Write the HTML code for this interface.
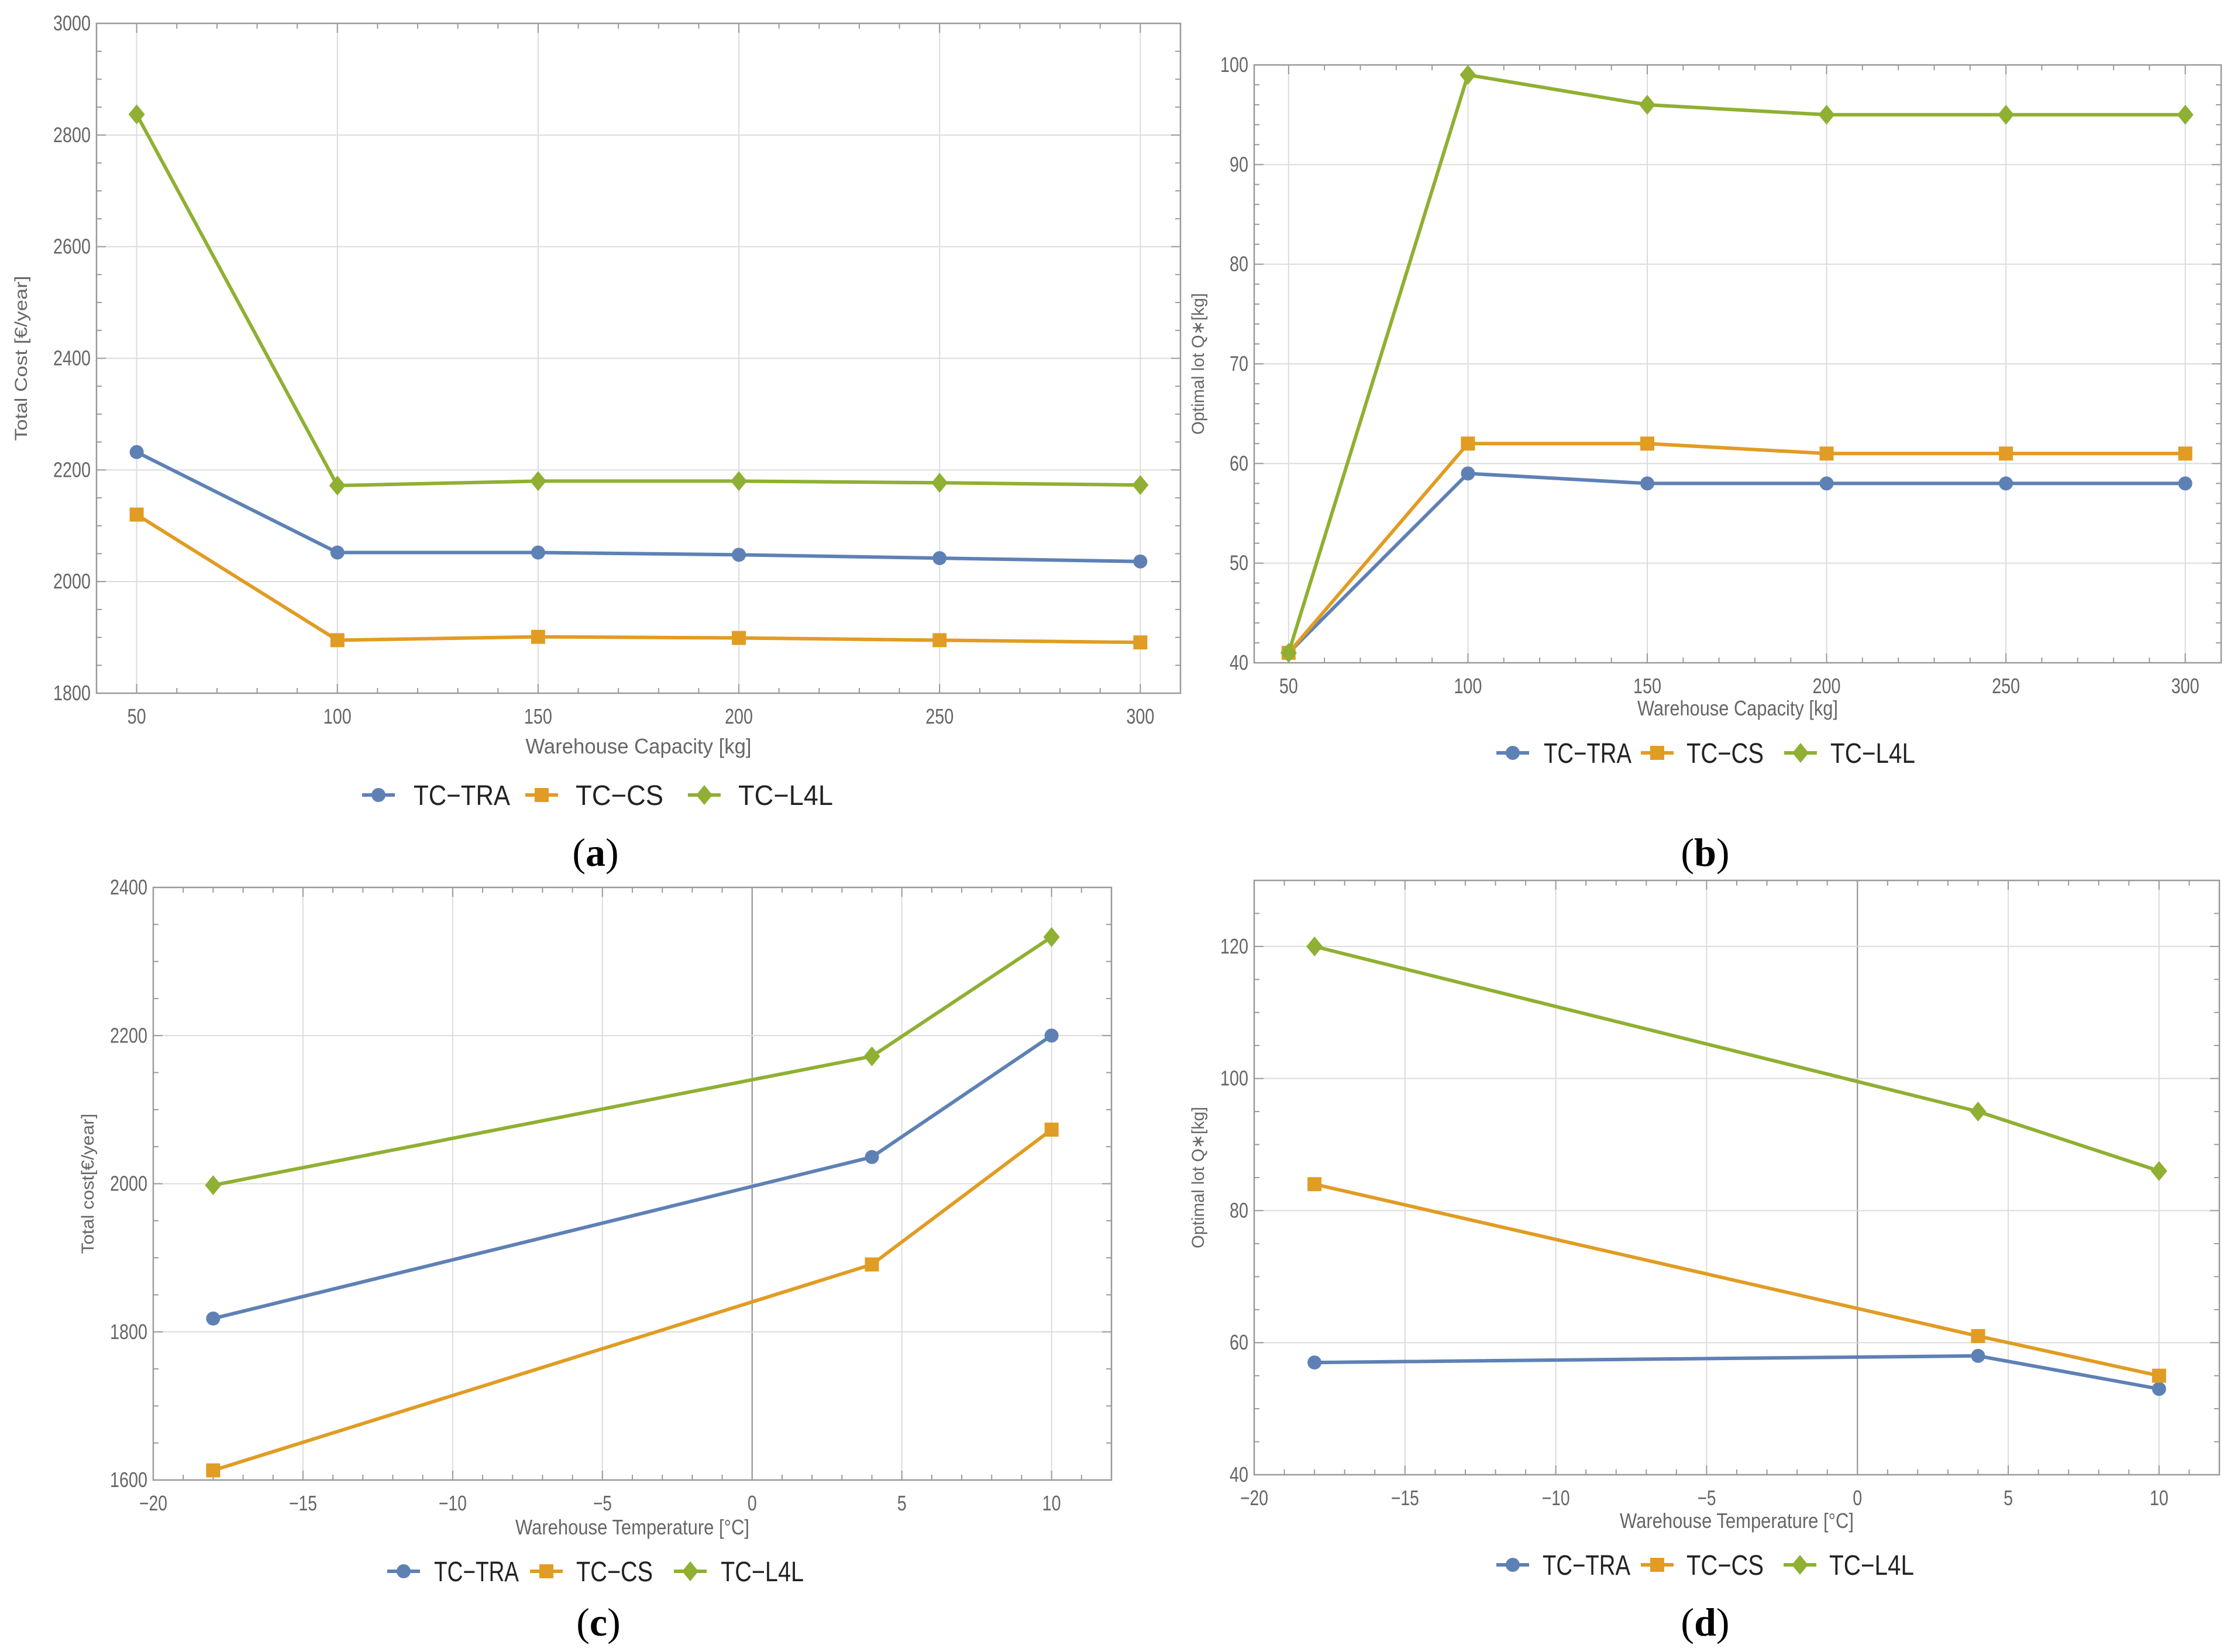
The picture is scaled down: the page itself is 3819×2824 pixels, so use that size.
<!DOCTYPE html>
<html><head><meta charset="utf-8"><style>
html,body{margin:0;padding:0;background:#fff}
svg{display:block}
</style></head><body>
<svg id="fig" width="3819" height="2824" viewBox="0 0 3819 2824" xmlns="http://www.w3.org/2000/svg"></svg>
<script>
// ---- data ----
const capCategories = [50, 100, 150, 200, 250, 300];
const tempCategories = [-18, 4, 10];
const seriesNames = ["TC\u2212TRA", "TC\u2212CS", "TC\u2212L4L"];
const aTRA = [2232, 2052, 2052, 2048, 2042, 2036];
const aCS  = [2120, 1895, 1901, 1899, 1895, 1891];
const aL4L = [2837, 2172, 2180, 2180, 2177, 2173];
const bTRA = [41, 59, 58, 58, 58, 58];
const bCS  = [41, 62, 62, 61, 61, 61];
const bL4L = [41, 99, 96, 95, 95, 95];
const cTRA = [1818, 2036, 2200];
const cCS  = [1613, 1891, 2073];
const cL4L = [1998, 2172, 2333];
const dTRA = [57, 58, 53];
const dCS  = [84, 61, 55];
const dL4L = [120, 95, 86];
const capTicks = [50, 100, 150, 200, 250, 300];
const tempTicks = [-20, -15, -10, -5, 0, 5, 10];
const aYTicks = [1800, 2000, 2200, 2400, 2600, 2800, 3000];
const bYTicks = [40, 50, 60, 70, 80, 90, 100];
const cYTicks = [1600, 1800, 2000, 2200, 2400];
const dYTicks = [40, 60, 80, 100, 120];

const NS = "http://www.w3.org/2000/svg";
const svg = document.getElementById("fig");
const COLORS = ["#5E81B5", "#E19C24", "#8FB032"];
function mk(tag, attrs, parent) {
  const e = document.createElementNS(NS, tag);
  for (const k in attrs) e.setAttribute(k, attrs[k]);
  (parent || svg).appendChild(e);
  return e;
}
function marker(g, kind, x, y, color) {
  let m;
  if (kind === 0) m = mk("circle", {cx: x, cy: y, r: 12, fill: color}, g);
  else if (kind === 1) m = mk("rect", {x: x - 12, y: y - 12, width: 24, height: 24, fill: color}, g);
  else m = mk("polygon", {points: `${x},${y-17} ${x+14},${y} ${x},${y+17} ${x-14},${y}`, fill: color}, g);
  return m;
}
function chart(c) {
  const g = mk("g", {});
  
  
  const sx = v => c.L + (v - c.x0) / (c.x1 - c.x0) * (c.R - c.L);
  const sy = v => c.B - (v - c.y0) / (c.y1 - c.y0) * (c.B - c.T);
  c.xTicks.forEach(v => {
    if (v === c.x0 || v === c.x1) return;
    const gl = mk("line", {x1: sx(v), x2: sx(v), y1: c.T, y2: c.B, stroke: v === 0 && c.zero ? "#8a8a8a" : "#dcdcdc", "stroke-width": 2}, g);
    
    
  });
  c.yTicks.forEach(v => {
    if (v === c.y0 || v === c.y1) return;
    const gl = mk("line", {x1: c.L, x2: c.R, y1: sy(v), y2: sy(v), stroke: "#dcdcdc", "stroke-width": 2}, g);
    
    
  });
  const fr = mk("rect", {x: c.L, y: c.T, width: c.R - c.L, height: c.B - c.T, fill: "none", stroke: "#9a9a9a", "stroke-width": 2.5}, g);
  
  
  for (let v = Math.ceil(c.x0 / c.xm) * c.xm; v <= c.x1; v += c.xm) {
    const major = c.xTicks.includes(v);
    const len = major ? 16 : 9;
    mk("line", {x1: sx(v), x2: sx(v), y1: c.B, y2: c.B - len, stroke: "#9a9a9a", "stroke-width": 2}, g);
    mk("line", {x1: sx(v), x2: sx(v), y1: c.T, y2: c.T + len, stroke: "#9a9a9a", "stroke-width": 2}, g);
  }
  for (let v = Math.ceil(c.y0 / c.ym) * c.ym; v <= c.y1; v += c.ym) {
    const major = c.yTicks.includes(v);
    const len = major ? 16 : 9;
    mk("line", {x1: c.L, x2: c.L + len, y1: sy(v), y2: sy(v), stroke: "#9a9a9a", "stroke-width": 2}, g);
    mk("line", {x1: c.R, x2: c.R - len, y1: sy(v), y2: sy(v), stroke: "#9a9a9a", "stroke-width": 2}, g);
  }
  c.xTicks.forEach(v => {
    const s = v < 0 ? "\u2212" + (-v) : String(v);
    const t = mk("text", {x: sx(v), y: c.B + 52, "text-anchor": "middle", "font-family": "Liberation Sans Narrow, Liberation Sans, sans-serif", "font-size": 36, fill: "#666", textLength: s.length * 16, lengthAdjust: "spacingAndGlyphs"}, g);
    t.textContent = s;
    
    
  });
  c.yTicks.forEach(v => {
    const s = String(v);
    const t = mk("text", {x: c.L - 10, y: sy(v) + 12, "text-anchor": "end", "font-family": "Liberation Sans Narrow, Liberation Sans, sans-serif", "font-size": 36, fill: "#666", textLength: s.length * 16, lengthAdjust: "spacingAndGlyphs"}, g);
    t.textContent = s;
    
    
  });
  const xt = mk("text", {x: (c.L + c.R) / 2, y: c.xtY + 12, "text-anchor": "middle", "font-family": "Liberation Sans Narrow, Liberation Sans, sans-serif", "font-size": 36, fill: "#666", textLength: c.xtW, lengthAdjust: "spacingAndGlyphs"}, g);
  xt.textContent = c.xTitle;
  
  
  const yt = mk("text", {x: 0, y: 0, "text-anchor": "middle", "font-family": "Liberation Sans, sans-serif", "font-size": 30, fill: "#666", transform: `translate(${c.ytX + 10},${(c.T + c.B) / 2}) rotate(-90)`, textLength: c.ytW, lengthAdjust: "spacingAndGlyphs"}, g);
  yt.textContent = c.yTitle;
  
  
  c.series.forEach((vals, si) => {
    const pts = vals.map((v, i) => `${sx(c.cats[i])},${sy(v)}`).join(" ");
    const pl = mk("polyline", {points: pts, fill: "none", stroke: COLORS[si], "stroke-width": 6, "stroke-linejoin": "round"}, g);
    
    
    vals.forEach((v, i) => {
      const m = marker(g, si, sx(c.cats[i]), sy(v), COLORS[si]);
      
      
    });
  });
  c.leg.forEach((lx, si) => {
    const ly = c.legY;
    const ln = mk("line", {x1: lx[0] - 28, x2: lx[0] + 28, y1: ly, y2: ly, stroke: COLORS[si], "stroke-width": 6}, g);
    
    
    const m = marker(g, si, lx[0], ly, COLORS[si]);
    
    
    const t = mk("text", {x: lx[1], y: ly + 17, "font-family": "Liberation Sans Narrow, Liberation Sans, sans-serif", "font-size": 48, fill: "#222", textLength: lx[2], lengthAdjust: "spacingAndGlyphs"}, g);
    t.textContent = seriesNames[si];
    
    
  });
  const cap = mk("text", {x: c.capX, y: c.capY + 24, "text-anchor": "middle", "font-family": "Liberation Serif, serif", "font-size": 68, fill: "#000"}, g);
  cap.innerHTML = '(<tspan font-weight="bold">' + c.cap + '</tspan>)';
  
  
}
chart({name: "chart-a", L: 165, R: 2018, T: 40, B: 1185, x0: 40, x1: 310, y0: 1800, y1: 3000,
  xTicks: capTicks, yTicks: aYTicks, xm: 10, ym: 50, cats: capCategories, series: [aTRA, aCS, aL4L],
  xTitle: "Warehouse Capacity [kg]", xtY: 1276, xtW: 386, yTitle: "Total Cost [\u20AC/year]", ytX: 36, ytW: 282,
  legY: 1359, leg: [[647, 707, 165], [926, 984, 150], [1204, 1262, 162]], cap: "a", capX: 1018, capY: 1456});
chart({name: "chart-b", L: 2144, R: 3797, T: 111, B: 1133, x0: 40.4, x1: 310, y0: 40, y1: 100,
  xTicks: capTicks, yTicks: bYTicks, xm: 10, ym: 2, cats: capCategories, series: [bTRA, bCS, bL4L],
  xTitle: "Warehouse Capacity [kg]", xtY: 1211, xtW: 343, yTitle: "Optimal lot Q\u2217[kg]", ytX: 2048, ytW: 242,
  legY: 1287, leg: [[2586, 2639, 150], [2833, 2883, 132], [3078, 3129, 145]], cap: "b", capX: 2915, capY: 1456});
chart({name: "chart-c", L: 262, R: 1900, T: 1517, B: 2530, x0: -20, x1: 12, y0: 1600, y1: 2400,
  xTicks: tempTicks, yTicks: cYTicks, xm: 1, ym: 50, cats: tempCategories, series: [cTRA, cCS, cL4L], zero: true,
  xTitle: "Warehouse Temperature [\u00B0C]", xtY: 2611, xtW: 400, yTitle: "Total cost[\u20AC/year]", ytX: 150, ytW: 240,
  legY: 2686, leg: [[690, 742, 145], [934, 985, 131], [1180, 1232, 142]], cap: "c", capX: 1023, capY: 2772});
chart({name: "chart-d", L: 2144, R: 3794, T: 1505, B: 2521, x0: -20, x1: 12, y0: 40, y1: 130,
  xTicks: tempTicks, yTicks: dYTicks, xm: 1, ym: 5, cats: tempCategories, series: [dTRA, dCS, dL4L], zero: true,
  xTitle: "Warehouse Temperature [\u00B0C]", xtY: 2600, xtW: 400, yTitle: "Optimal lot Q\u2217[kg]", ytX: 2048, ytW: 242,
  legY: 2675, leg: [[2586, 2637, 150], [2833, 2883, 132], [3077, 3127, 145]], cap: "d", capX: 2915, capY: 2772});
</script>
</body></html>
